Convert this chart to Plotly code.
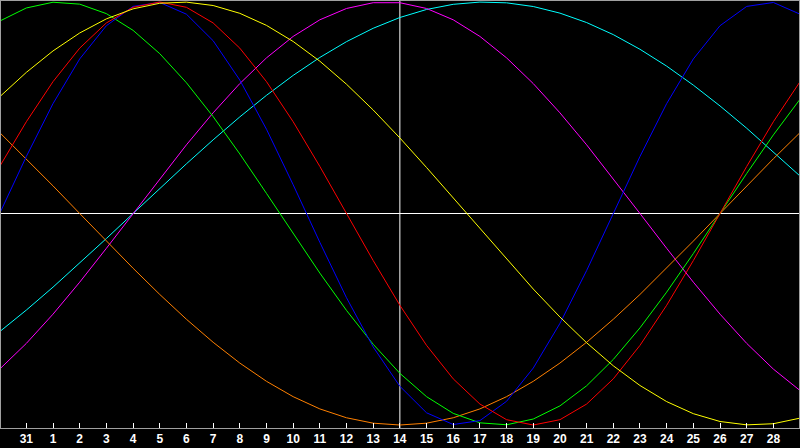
import plotly.graph_objects as go

days = list(range(0, 31))
tick_pos = list(range(1, 30))
tick_labels = ["31"] + [str(d) for d in range(1, 29)]

physical = [0, 0.2698, 0.5196, 0.7308, 0.8879, 0.9791, 0.9977, 0.9423, 0.8170, 0.6311,
            0.3984, 0.1362, -0.1362, -0.3984, -0.6311, -0.8170, -0.9423, -0.9977, -0.9791, -0.8879,
            -0.7308, -0.5196, -0.2698, 0, 0.2698, 0.5196, 0.7308, 0.8879, 0.9791, 0.9977, 0.9423]
emotional = [0.2225, 0.4339, 0.6235, 0.7818, 0.9010, 0.9749, 1.0, 0.9749, 0.9010, 0.7818,
             0.6235, 0.4339, 0.2225, 0, -0.2225, -0.4339, -0.6235, -0.7818, -0.9010, -0.9749,
             -1.0, -0.9749, -0.9010, -0.7818, -0.6235, -0.4339, -0.2225, 0, 0.2225, 0.4339, 0.6235]
intellectual = [0.9096, 0.9718, 0.9989, 0.9898, 0.9450, 0.8660, 0.7557, 0.6182, 0.4582, 0.2817,
                0.0951, -0.0951, -0.2817, -0.4582, -0.6182, -0.7557, -0.8660, -0.9450, -0.9898, -0.9989,
                -0.9718, -0.9096, -0.8146, -0.6901, -0.5406, -0.3717, -0.1893, 0, 0.1893, 0.3717, 0.5406]
aesthetic = [0.5517, 0.6673, 0.7687, 0.8535, 0.9203, 0.9675, 0.9940, 0.9993, 0.9834, 0.9465,
             0.8894, 0.8133, 0.7201, 0.6112, 0.4894, 0.3572, 0.2174, 0.0730, -0.0730, -0.2174,
             -0.3572, -0.4894, -0.6112, -0.7201, -0.8133, -0.8894, -0.9465, -0.9834, -0.9993, -0.9940, -0.9675]
intuitive = [-0.7357, -0.6142, -0.4759, -0.3247, -0.1646, 0, 0.1646, 0.3247, 0.4759, 0.6142,
             0.7357, 0.8372, 0.9158, 0.9694, 0.9966, 0.9966, 0.9694, 0.9158, 0.8372, 0.7357,
             0.6142, 0.4759, 0.3247, 0.1646, 0, -0.1646, -0.3247, -0.4759, -0.6142, -0.7357, -0.8372]
spiritual = [-0.5587, -0.4566, -0.3482, -0.2349, -0.1183, 0, 0.1183, 0.2349, 0.3482, 0.4566,
             0.5587, 0.6529, 0.7378, 0.8125, 0.8757, 0.9267, 0.9646, 0.9890, 0.9996, 0.9961,
             0.9786, 0.9473, 0.9028, 0.8457, 0.7764, 0.6968, 0.6068, 0.5085, 0.4031, 0.2921, 0.1769]
awareness = [0.3827, 0.2588, 0.1305, 0, -0.1305, -0.2588, -0.3827, -0.5, -0.6088, -0.7071,
             -0.7934, -0.8660, -0.9239, -0.9659, -0.9914, -1.0, -0.9914, -0.9659, -0.9239, -0.8660,
             -0.7934, -0.7071, -0.6088, -0.5, -0.3827, -0.2588, -0.1305, 0, 0.1305, 0.2588, 0.3827]

series = [
    ("Spiritual", spiritual, "#00ffff"),
    ("Intuitive", intuitive, "#ff00ff"),
    ("Awareness", awareness, "#ff8000"),
    ("Intellectual", intellectual, "#00ff00"),
    ("Physical", physical, "#0000ff"),
    ("Emotional", emotional, "#ff0000"),
    ("Aesthetic", aesthetic, "#ffff00"),
]

fig = go.Figure()
for name, vals, col in series:
    fig.add_trace(go.Scatter(x=days, y=vals, mode="lines", name=name,
                             line=dict(color=col, width=1), hoverinfo="skip"))

today = 15
fig.add_shape(type="line", xref="paper", yref="y", x0=0, x1=1, y0=0, y1=0,
              line=dict(color="#ffffff", width=1), layer="below")
fig.add_shape(type="line", xref="x", yref="paper", x0=today, x1=today, y0=0, y1=1,
              line=dict(color="#ffffff", width=1), layer="below")

fig.update_layout(
    width=800, height=448,
    margin=dict(l=1, r=1, t=1, b=20),
    paper_bgcolor="#000000", plot_bgcolor="#000000",
    showlegend=False,
    xaxis=dict(range=[0.05, 29.96], tickmode="array", tickvals=tick_pos, ticktext=tick_labels,
               ticks="inside", ticklen=5, tickwidth=1, tickcolor="#ffffff",
               showgrid=False, zeroline=False, showline=True, linecolor="#a0a0a0",
               linewidth=1, mirror=True,
               tickfont=dict(family="Liberation Sans", size=12, color="#ffffff", weight="bold")),
    yaxis=dict(range=[-1.0142, 1.0047], showticklabels=False, ticks="",
               showgrid=False, zeroline=False, showline=True, linecolor="#a0a0a0",
               linewidth=1, mirror=True),
)

fig.write_html("out.html", config={"displayModeBar": False, "staticPlot": True},
               post_script="document.body.style.margin='0';document.body.style.overflow='hidden';document.body.style.background='#000';")
